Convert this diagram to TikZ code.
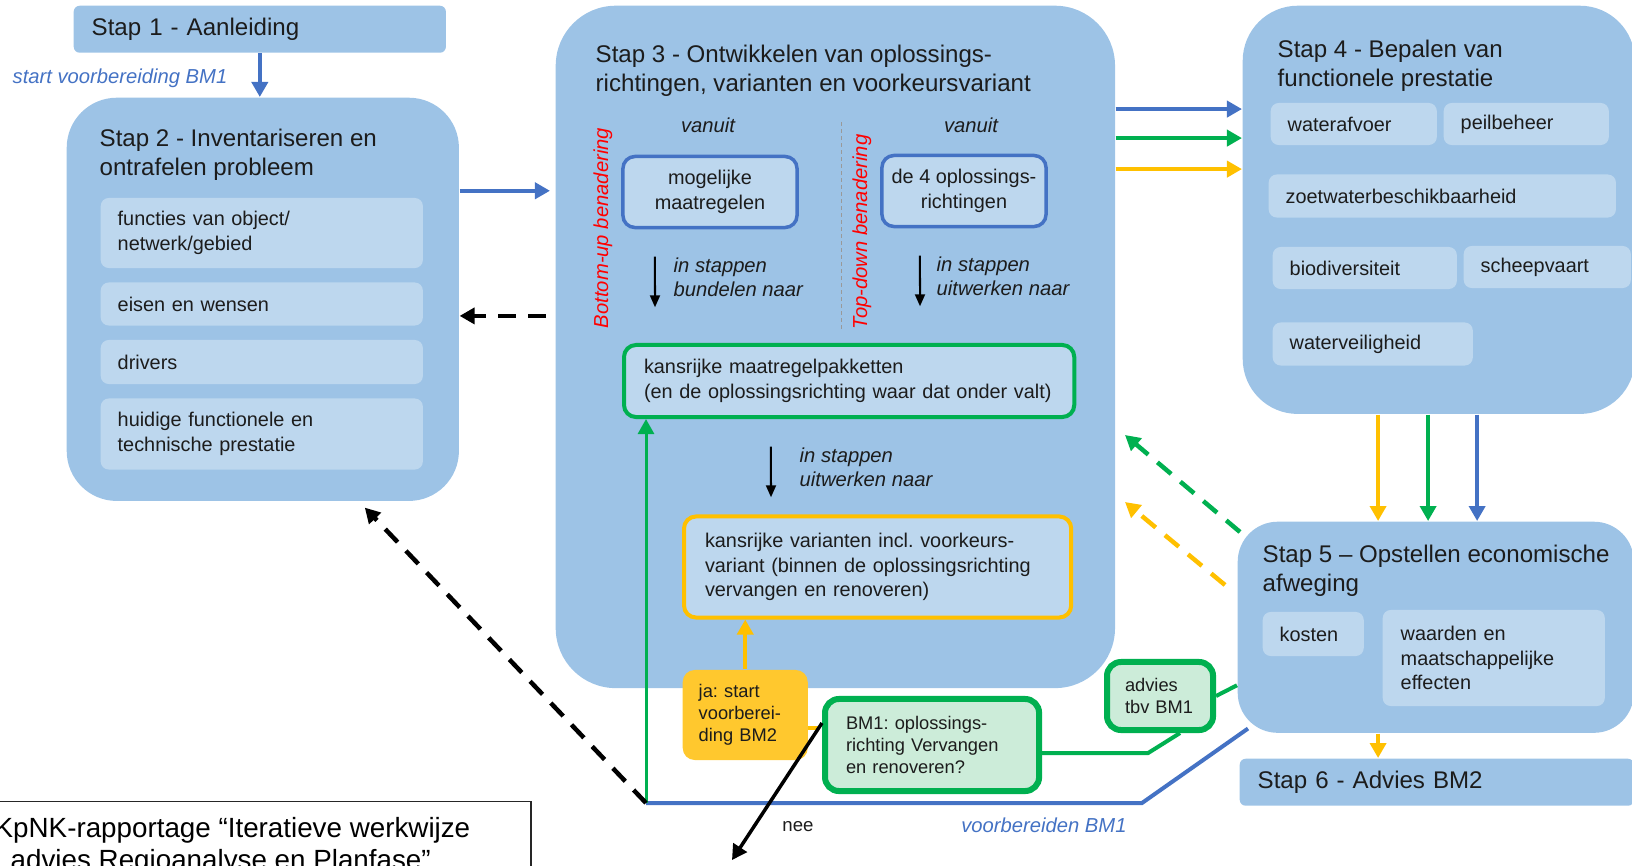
\documentclass[tikz,border=0pt]{standalone}
\usepackage{fontspec}
\setmainfont{Liberation Sans}
\usetikzlibrary{arrows.meta}
\frenchspacing

\definecolor{boxblue}{RGB}{157,195,230}
\definecolor{subblue}{RGB}{189,215,238}
\definecolor{lineblue}{RGB}{68,114,196}
\definecolor{linegreen}{RGB}{0,176,80}
\definecolor{lineyellow}{RGB}{255,192,0}
\definecolor{jafill}{RGB}{255,200,46}
\definecolor{advfill}{RGB}{204,236,217}
\definecolor{txt}{RGB}{28,28,28}

\newcommand{\stapfont}{\fontsize{6.85pt}{8.2pt}\selectfont}
\newcommand{\itemfont}{\fontsize{5.65pt}{7.0pt}\selectfont}
\newcommand{\boxfont}{\fontsize{5.2pt}{6.3pt}\selectfont}
\newcommand{\notefont}{\fontsize{5.75pt}{6.9pt}\selectfont\itshape}
\newcommand{\kpnkfont}{\fontsize{7.9pt}{9.1pt}\selectfont}

\begin{document}
\begin{tikzpicture}[x=0.01cm, y=-0.01cm,
    bigbox/.style={fill=boxblue, anchor=north west, inner sep=0pt},
    stap/.style={anchor=west, align=left, inner sep=0pt, font=\stapfont, text=txt},
    sub/.style={fill=subblue, rounded corners=0.08cm, anchor=west, align=left,
      inner xsep=0.17cm, inner ysep=0pt, font=\itemfont, text=txt},
    bordered/.style={fill=subblue, rounded corners=0.12cm, line width=0.035cm,
      align=center, inner sep=0pt, font=\itemfont, text=txt},
    note/.style={inner sep=0pt, font=\notefont, text=txt},
    arr/.style={-{Triangle[length=0.15cm,width=0.16cm]}, line width=0.04cm},
    sarr/.style={-{Triangle[length=0.12cm,width=0.1cm]}, line width=0.02cm},
    darr/.style={-{Triangle[length=0.15cm,width=0.16cm]}, line width=0.045cm,
      dash pattern=on 0.18cm off 0.12cm}]
  \useasboundingbox (0,0) rectangle (1632,866);
  \clip (0,0) rectangle (1632,866);

  \node[bigbox, rounded corners=0.06cm, minimum width=3.72cm, minimum height=0.47cm,
    inner xsep=0.18cm, text width=3.36cm, align=left, font=\stapfont, text=txt]
    (stap1) at (73,5) {Stap 1 - Aanleiding};
  \node[note, text=lineblue] (startbm1) at (120,78) {start voorbereiding BM1};

  \node[bigbox, rounded corners=0.5cm, minimum width=3.92cm, minimum height=4.03cm] (stap2) at (66,97) {};
  \node[stap] (stap2t) at (99,155) {Stap 2 - Inventariseren en\\ontrafelen probleem};
  \node[sub, text width=2.88cm, minimum height=0.70cm] (functies) at (100,233) {functies van object/\\netwerk/gebied};
  \node[sub, text width=2.88cm, minimum height=0.43cm] (eisen) at (100,304) {eisen en wensen};
  \node[sub, text width=2.88cm, minimum height=0.44cm] (drivers) at (100,362) {drivers};
  \node[sub, text width=2.88cm, minimum height=0.71cm] (huidig) at (100,434) {huidige functionele en\\technische prestatie};

  \node[bigbox, rounded corners=0.6cm, minimum width=5.59cm, minimum height=6.82cm] (stap3) at (555,5) {};
  \node[stap] (stap3t) at (595,71) {Stap 3 - Ontwikkelen van oplossings-\\richtingen, varianten en voorkeursvariant};
  \node[note] (vanuit1) at (708,125) {vanuit};
  \node[note] (vanuit2) at (971,125) {vanuit};
  \node[note, text=red, rotate=90] (bottomup) at (603,228) {Bottom-up benadering};
  \node[note, text=red, rotate=90] (topdown) at (862,232) {Top-down benadering};
  \draw[gray!80, line width=0.01cm, dash pattern=on 0.04cm off 0.03cm] (841,122) -- (841,330);
  \node[bordered, draw=lineblue, minimum width=1.74cm, minimum height=0.71cm] (mogelijk) at (710,192) {mogelijke\\maatregelen};
  \node[bordered, draw=lineblue, minimum width=1.64cm, minimum height=0.71cm] (richtingen) at (964,191) {de 4 oplossings-\\richtingen};
  \node[note, anchor=west, align=left] (bundelen) at (673,277) {in stappen\\bundelen naar};
  \node[note, anchor=west, align=left] (uitwerken1) at (936,276) {in stappen\\uitwerken naar};
  \node[sub, draw=linegreen, line width=0.04cm, rounded corners=0.12cm, inner xsep=0.2cm,
    text width=4.10cm, minimum height=0.72cm] (pakket) at (622,381)
    {kansrijke maatregelpakketten\\(en de oplossingsrichting waar dat onder valt)};
  \node[note, anchor=west, align=left] (uitwerken2) at (799,467) {in stappen\\uitwerken naar};
  \node[sub, draw=lineyellow, line width=0.04cm, rounded corners=0.12cm, inner xsep=0.21cm,
    text width=3.45cm, minimum height=1.01cm] (varianten) at (682,567)
    {kansrijke varianten incl. voorkeurs-\\variant (binnen de oplossingsrichting\\vervangen en renoveren)};

  \node[bigbox, rounded corners=0.55cm, minimum width=3.92cm, minimum height=4.08cm] (stap4) at (1242,5) {};
  \node[stap] (stap4t) at (1277,66) {Stap 4 - Bepalen van\\functionele prestatie};
  \node[sub, text width=1.32cm, minimum height=0.42cm] (afvoer) at (1270,124) {waterafvoer};
  \node[sub, text width=1.31cm, minimum height=0.42cm] (peil) at (1443,124) {peilbeheer};
  \node[sub, text width=3.13cm, minimum height=0.43cm] (zoetwater) at (1268,196) {zoetwaterbeschikbaarheid};
  \node[sub, text width=1.50cm, minimum height=0.42cm] (biodiv) at (1272,268) {biodiversiteit};
  \node[sub, text width=1.33cm, minimum height=0.42cm] (scheep) at (1463,267) {scheepvaart};
  \node[sub, text width=1.66cm, minimum height=0.43cm] (veilig) at (1272,344) {waterveiligheid};

  \node[bigbox, rounded corners=0.4cm, minimum width=3.96cm, minimum height=2.11cm] (stap5) at (1237,521) {};
  \node[stap] (stap5t) at (1262,571) {Stap 5 – Opstellen economische\\afweging};
  \node[sub, text width=0.67cm, minimum height=0.44cm] (kosten) at (1262,634) {kosten};
  \node[sub, inner xsep=0.18cm, text width=1.86cm, minimum height=0.96cm] (waarden) at (1382,658)
    {waarden en\\maatschappelijke\\effecten};

  \node[bigbox, rounded corners=0.06cm, minimum width=3.94cm, minimum height=0.47cm,
    inner xsep=0.18cm, text width=3.58cm, align=left, font=\stapfont, text=txt]
    (stap6) at (1239,758) {Stap 6 - Advies BM2};

  \node[sub, fill=jafill, rounded corners=0.12cm, font=\boxfont, inner xsep=0.16cm,
    text width=0.93cm, minimum height=0.90cm] (ja) at (682,715) {ja: start\\voorberei-\\ding BM2};
  \node[sub, fill=advfill, draw=linegreen, line width=0.06cm, rounded corners=0.14cm, font=\boxfont,
    inner xsep=0.21cm, text width=1.72cm, minimum height=0.92cm] (bm1) at (822,745)
    {BM1: oplossings-\\richting Vervangen\\en renoveren?};
  \node[sub, fill=advfill, draw=linegreen, line width=0.06cm, rounded corners=0.14cm, font=\boxfont,
    inner xsep=0.18cm, text width=0.70cm, minimum height=0.68cm] (advies) at (1104,696) {advies\\tbv BM1};
  \node[inner sep=0pt, font=\fontsize{5.3pt}{6pt}\selectfont, text=txt] (nee) at (798,827) {nee};
  \node[note, text=lineblue] (voorbm1) at (1044,825) {voorbereiden BM1};

  \node[draw=black!85, line width=0.012cm, fill=white, anchor=north west, minimum width=5.5cm,
    minimum height=1.2cm, inner sep=0pt] (kpnk) at (-20,801) {};
  \node[anchor=west, align=left, inner sep=0pt, font=\kpnkfont, text=black] (kpnktekst) at (-6,846)
    {KpNK-rapportage “Iteratieve werkwijze\\\hspace*{0.16cm}advies Regioanalyse en Planfase”};

  \coordinate (s2out) at ([yshift=1.085cm]stap2.east);
  \coordinate (s3back) at ([shift={(-9,-31)}]stap3.west);
  \coordinate (hub) at (646,803);
  \coordinate (gtip) at (1125,435);
  \coordinate (ytip) at (1125,502);
  \coordinate (neetip) at (732,860);
  \coordinate (jaout) at ([yshift=-0.13cm]ja.east);
  \coordinate (s5out) at ([xshift=1.41cm]stap5.south west);

  \draw[arr, lineblue] (stap1.south) to (stap1.south |- stap2.north);
  \draw[arr, lineblue, shorten >=0.05cm] (s2out) to (s2out -| stap3.west);
  \draw[darr] (s3back) to (s3back -| stap2.east);
  \draw[sarr] ([xshift=-0.18cm]bundelen.north west) to ([shift={(-18,10)}]bundelen.south west);
  \draw[sarr] ([xshift=-0.16cm]uitwerken1.north west) to ([shift={(-16,10)}]uitwerken1.south west);
  \draw[sarr] ([xshift=-0.28cm]uitwerken2.north west) to ([shift={(-28,10)}]uitwerken2.south west);
  \foreach \c/\dy in {lineblue/1.04, linegreen/1.33, lineyellow/1.64} {
    \coordinate (from) at ([yshift=-\dy cm]stap3.north east);
    \draw[arr, \c] (from) to (from -| stap4.west);
  }
  \foreach \c/\dx in {lineyellow/1.36, linegreen/1.86, lineblue/2.35} {
    \coordinate (from) at ([xshift=\dx cm]stap4.south west);
    \draw[arr, \c] (from) to (from |- stap5.north);
  }
  \draw[arr, lineyellow] (s5out) to (s5out |- stap6.north);
  \draw[darr, linegreen] ([shift={(3,11)}]stap5.north west) to (gtip);
  \draw[darr, lineyellow] ([shift={(-12,64)}]stap5.north west) to (ytip);

  \draw[lineblue, line width=0.04cm] (hub) -- ++(496,0) -- ([shift={(11,-5)}]stap5.south west);
  \draw[arr, linegreen, line width=0.03cm] (hub) to (hub |- pakket.south);
  \draw[darr] (hub) to ([shift={(102,6)}]stap2.south);
  \draw[arr, lineyellow] (ja.north) to (ja.north |- varianten.south);
  \draw[lineyellow, line width=0.04cm, shorten >=0.03cm] (jaout) to (jaout -| bm1.west);
  \draw[linegreen, line width=0.04cm] ([yshift=-0.08cm]bm1.east) -- ++(106,0) -- ([xshift=0.2cm]advies.south);
  \draw[linegreen, line width=0.04cm] (advies.east) to ([shift={(0,58)}]stap5.west);
  \draw[arr, black, line width=0.035cm] ([yshift=0.22cm]bm1.west) to (neetip);
\end{tikzpicture}
\end{document}
